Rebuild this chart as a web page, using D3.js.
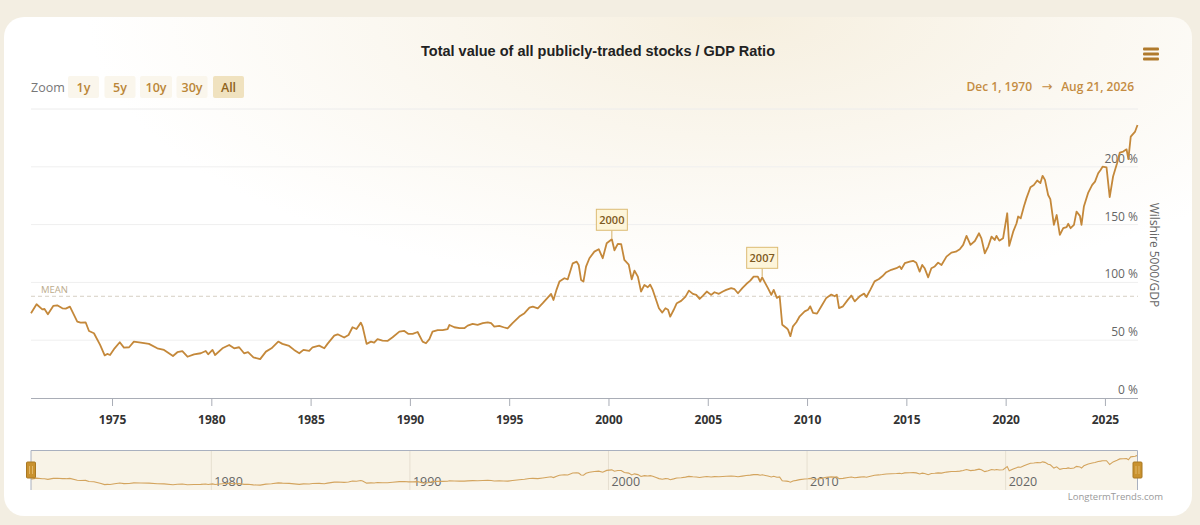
<!DOCTYPE html>
<html>
<head>
<meta charset="utf-8">
<script src="https://cdn.jsdelivr.net/npm/d3@7"></script>
<style>
  html, body { margin: 0; padding: 0; background: #f3eee2; }
  svg { display: block; }
</style>
</head>
<body>
<svg id="chart" width="1200" height="525"></svg>
<script>
// ---- DATA (decimal year, Wilshire 5000 / GDP in %) ----
const dates = [
  1970.92,1971.2,1971.49,1971.6,1971.77,1972.04,1972.24,1972.5,1972.67,1972.88,
  1973.25,1973.42,1973.67,1973.84,1974.09,1974.4,1974.63,1974.76,1974.9,1975.13,
  1975.39,1975.6,1975.86,1976.1,1976.45,1976.86,1977.28,1977.62,1978.07,1978.29,
  1978.54,1978.8,1979.13,1979.47,1979.72,1979.84,1980.06,1980.19,1980.56,1980.9,
  1981.15,1981.4,1981.65,1981.85,1982.12,1982.27,1982.46,1982.75,1983.03,1983.37,
  1983.58,1983.92,1984.17,1984.43,1984.64,1984.93,1985.1,1985.43,1985.69,1985.85,
  1986.19,1986.36,1986.69,1986.91,1987.11,1987.31,1987.53,1987.62,1987.82,1988.04,
  1988.2,1988.37,1988.62,1988.87,1989.13,1989.47,1989.72,1989.93,1990.14,1990.39,
  1990.64,1990.81,1990.98,1991.14,1991.4,1991.65,1991.9,1991.99,1992.24,1992.5,
  1992.74,1992.91,1993.16,1993.41,1993.67,1993.92,1994.09,1994.25,1994.5,1994.72,
  1994.92,1995.17,1995.51,1995.77,1996.02,1996.19,1996.44,1996.69,1996.94,1997.11,
  1997.23,1997.39,1997.53,1997.78,1997.95,1998.2,1998.4,1998.5,1998.62,1998.74,
  1998.87,1999.04,1999.29,1999.51,1999.71,1999.91,2000.17,2000.3,2000.47,2000.64,
  2000.8,2001.02,2001.17,2001.31,2001.48,2001.64,2001.81,2001.98,2002.1,2002.23,
  2002.4,2002.54,2002.71,2002.87,2003.0,2003.11,2003.28,2003.44,2003.66,2003.88,
  2004.05,2004.25,2004.42,2004.59,2004.75,2004.95,2005.17,2005.34,2005.56,2005.76,
  2005.93,2006.18,2006.35,2006.52,2006.74,2006.94,2007.14,2007.31,2007.52,2007.64,
  2007.74,2007.9,2008.03,2008.2,2008.32,2008.48,2008.62,2008.75,2008.96,2009.04,
  2009.16,2009.29,2009.46,2009.63,2009.88,2010.05,2010.16,2010.3,2010.5,2010.72,
  2010.97,2011.22,2011.39,2011.5,2011.61,2011.81,2012.06,2012.23,2012.4,2012.65,
  2012.87,2012.99,2013.19,2013.4,2013.62,2013.79,2013.99,2014.24,2014.5,2014.67,
  2014.75,2014.92,2015.17,2015.34,2015.5,2015.67,2015.8,2015.92,2016.1,2016.26,
  2016.43,2016.6,2016.77,2017.02,2017.27,2017.49,2017.69,2017.86,2018.03,2018.23,
  2018.45,2018.66,2018.78,2018.95,2019.12,2019.29,2019.45,2019.54,2019.68,2019.87,
  2020.08,2020.18,2020.38,2020.55,2020.63,2020.76,2020.92,2021.05,2021.25,2021.42,
  2021.59,2021.75,2021.86,2021.98,2022.14,2022.25,2022.43,2022.57,2022.73,2022.9,
  2023.07,2023.15,2023.27,2023.44,2023.57,2023.74,2023.82,2023.94,2024.16,2024.36,
  2024.5,2024.66,2024.78,2024.88,2025.08,2025.24,2025.41,2025.61,2025.75,2025.92,
  2026.09,2026.18,2026.3,2026.52,2026.64
];
const ratio = [
  73.3,81.1,76.7,77.0,72.5,79.6,80.2,77.6,77.3,79.0,
  66.1,65.2,65.5,58.0,56.0,45.9,36.9,38.1,37.2,43.0,
  48.2,43.6,43.9,48.8,47.9,46.8,43.0,41.6,36.3,39.6,
  40.6,35.7,37.8,38.7,40.7,37.8,41.6,37.2,43.0,45.9,
  43.0,43.9,38.7,39.6,35.2,34.4,33.6,40.1,43.0,48.8,
  46.8,45.0,41.6,38.7,41.6,40.7,43.9,45.3,43.0,46.8,
  54.0,55.1,52.3,54.5,61.2,59.7,65.2,61.7,46.8,48.8,
  47.9,50.9,49.7,49.4,52.6,57.4,58.0,55.4,55.4,57.1,
  48.8,47.4,50.9,57.4,58.8,58.8,59.5,63.2,61.2,60.4,
  60.4,62.6,64.1,63.2,64.7,65.5,64.7,61.7,62.3,61.2,
  60.3,64.7,70.4,73.4,78.1,79.0,77.6,82.0,86.9,90.1,
  84.8,94.0,100.7,103.6,102.7,116.5,117.9,115.1,102.1,100.7,
  113.7,120.9,126.6,128.7,120.9,133.9,137.3,127.8,133.3,133.1,
  119.4,115.4,102.7,110.2,105.0,92.1,97.8,95.8,98.1,93.5,
  84.8,77.6,73.9,77.6,76.4,70.4,76.1,82.0,84.0,87.7,
  92.9,90.1,89.2,85.7,88.3,92.1,89.2,91.5,90.1,92.1,
  93.5,95.0,94.1,90.6,95.0,98.6,101.5,105.0,105.0,100.7,
  104.4,99.2,95.0,89.2,93.5,86.6,88.0,63.4,60.6,59.1,
  53.5,62.0,65.5,70.7,74.9,76.4,79.3,73.6,73.0,79.3,
  86.6,89.5,88.0,89.4,77.8,79.3,85.1,88.6,83.6,88.0,
  90.3,87.4,93.8,100.9,102.9,105.3,108.8,110.9,112.3,113.9,
  111.5,116.6,117.9,118.7,117.0,109.3,115.1,112.3,104.4,112.3,
  113.8,117.1,115.1,122.3,125.8,126.6,128.7,132.5,140.2,132.5,
  135.8,142.5,138.1,125.2,131.0,139.6,136.7,140.2,136.1,138.1,
  159.8,131.6,143.9,151.2,157.0,155.4,165.6,172.9,182.3,184.3,
  188.1,185.9,192.2,188.7,175.6,172.0,149.8,158.3,141.1,146.9,
  147.8,150.7,146.9,149.8,161.2,157.5,149.8,165.6,177.7,184.3,
  187.2,194.4,197.3,200.1,199.5,173.7,191.6,203.1,212.3,213.2,
  215.1,206.6,226.1,230.5,236.2
];
const meanValue = 88;
const xTicks = [1975,1980,1985,1990,1995,2000,2005,2010,2015,2020,2025];
const yTicks = [0,50,100,150,200];
const navTicks = [1980,1990,2000,2010,2020];
const zoomButtons = ["1y","5y","10y","30y","All"];
const annotations = [{year: 2000.17, value: 137.3, label: "2000"}, {year: 2007.74, value: 104.4, label: "2007"}];

const series = dates.map((d, i) => ({x: d, y: ratio[i]}));

const svg = d3.select("#chart");
const FONT = "'Open Sans', 'Noto Sans', sans-serif";
const LINE = "#c4883a";

// ---- background card ----
const defs = svg.append("defs");
const rg = defs.append("radialGradient").attr("id", "glow")
  .attr("cx", "0.62").attr("cy", "0.0").attr("r", "0.55");
rg.append("stop").attr("offset", "0%").attr("stop-color", "#f6efdf");
rg.append("stop").attr("offset", "100%").attr("stop-color", "#ffffff");

svg.append("rect").attr("x", 0).attr("y", 0).attr("width", 1200).attr("height", 525).attr("fill", "#f3eee2");
svg.append("rect").attr("x", 4).attr("y", 17).attr("width", 1188).attr("height", 499)
  .attr("rx", 20).attr("fill", "url(#glow)");

// ---- title ----
svg.append("text").attr("x", 598).attr("y", 56).attr("text-anchor", "middle")
  .attr("font-family", "'Liberation Sans', Arial, sans-serif").attr("font-weight", "bold")
  .attr("font-size", 14.5).attr("fill", "#222")
  .text("Total value of all publicly-traded stocks / GDP Ratio");

// hamburger
[49, 54, 59].forEach(y => {
  svg.append("rect").attr("x", 1143).attr("y", y - 1.5).attr("width", 16).attr("height", 3)
    .attr("rx", 1).attr("fill", "#b07a2c");
});

// ---- zoom buttons ----
svg.append("text").attr("x", 31).attr("y", 91.5).attr("font-family", FONT).attr("font-size", 12.5)
  .attr("fill", "#777").text("Zoom");
const btnX = [68, 104.5, 140, 176.5, 213];
const btnW = [31, 31, 32, 31, 31];
zoomButtons.forEach((b, i) => {
  const sel = b === "All";
  svg.append("rect").attr("x", btnX[i]).attr("y", 76).attr("width", btnW[i]).attr("height", 22)
    .attr("rx", 2).attr("fill", sel ? "#f0e2bf" : "#faf6ec");
  svg.append("text").attr("x", btnX[i] + btnW[i] / 2).attr("y", 91.5).attr("text-anchor", "middle")
    .attr("font-family", FONT).attr("font-size", 12.5).attr("font-weight", 600)
    .attr("fill", sel ? "#8f6420" : "#bb8638").text(b);
});

// date range
const drStyle = s => s.attr("font-family", FONT).attr("font-weight", 600).attr("fill", "#c48c42");
drStyle(svg.append("text").attr("x", 1032).attr("y", 91).attr("text-anchor", "end").attr("font-size", 12))
  .text("Dec 1, 1970");
drStyle(svg.append("text").attr("x", 1047).attr("y", 91).attr("text-anchor", "middle").attr("font-size", 13))
  .attr("font-family", "'DejaVu Sans', sans-serif").attr("font-weight", "normal").text("\u2192");
drStyle(svg.append("text").attr("x", 1134).attr("y", 91).attr("text-anchor", "end").attr("font-size", 12))
  .text("Aug 21, 2026");

// ---- scales ----
const x = d3.scaleLinear().domain([1970.92, 2026.64]).range([31, 1137.5]);
const y = d3.scaleLinear().domain([0, 250]).range([398, 109]);

// gridlines
const grid = svg.append("g");
[0, 50, 100, 150, 200, 250].forEach(v => {
  if (v === 0) return;
  grid.append("line").attr("x1", 31).attr("x2", 1138).attr("y1", y(v)).attr("y2", y(v))
    .attr("stroke", v === 250 ? "#ececec" : "#efefef").attr("stroke-width", 1);
});

// y labels (right)
yTicks.forEach(v => {
  svg.append("text").attr("x", 1138).attr("y", y(v) - 4).attr("text-anchor", "end")
    .attr("font-family", FONT).attr("font-size", 12).attr("fill", "#666")
    .text(v + " %");
});

// y axis title
svg.append("text").attr("transform", "translate(1150,255) rotate(90)")
  .attr("text-anchor", "middle").attr("font-family", FONT).attr("font-size", 12)
  .attr("fill", "#666").text("Wilshire 5000/GDP");

// mean line
svg.append("line").attr("x1", 31).attr("x2", 1138).attr("y1", y(meanValue)).attr("y2", y(meanValue))
  .attr("stroke", "#d6cfc3").attr("stroke-width", 1).attr("stroke-dasharray", "4,3");
svg.append("text").attr("x", 41).attr("y", y(meanValue) - 3.5).attr("font-family", FONT)
  .attr("font-size", 9.5).attr("fill", "#bcab8c").text("MEAN");

// x axis
const xAxis = d3.axisBottom(x).tickValues(xTicks).tickFormat(d3.format("d")).tickSize(8).tickPadding(9);
const gx = svg.append("g").attr("transform", "translate(0,398)").call(xAxis);
gx.select(".domain").attr("stroke", "#a9adb6").attr("d", "M31,0.5H1138");
gx.selectAll(".tick line").attr("stroke", "#a9adb6");
gx.selectAll(".tick text").attr("font-family", FONT).attr("font-size", 12).attr("font-weight", "bold")
  .attr("fill", "#333");

// main line
const line = d3.line().x(d => x(d.x)).y(d => y(d.y)).curve(d3.curveLinear);
svg.append("path").datum(series).attr("d", line).attr("fill", "none")
  .attr("stroke", LINE).attr("stroke-width", 1.8).attr("stroke-linejoin", "round");

// annotations
annotations.forEach(a => {
  const px = x(a.year), py = y(a.value);
  const bw = 31, bh = 21;
  const by = py - 3 - 6 - bh;
  svg.append("line").attr("x1", px).attr("x2", px).attr("y1", by + bh).attr("y2", py - 1)
    .attr("stroke", "#d4b066").attr("stroke-width", 1);
  svg.append("rect").attr("x", px - bw / 2).attr("y", by).attr("width", bw).attr("height", bh)
    .attr("fill", "#fdf5da").attr("stroke", "#dcbc74").attr("stroke-width", 1);
  svg.append("text").attr("x", px).attr("y", by + 15).attr("text-anchor", "middle")
    .attr("font-family", FONT).attr("font-size", 11).attr("font-weight", 600)
    .attr("fill", "#7d5a22").text(a.label);
});

// ---- navigator ----
const navTop = 450, navBot = 490;
const ny = d3.scaleLinear().domain([0, 273]).range([navBot, navTop]);
svg.append("rect").attr("x", 31).attr("y", navTop).attr("width", 1137.5 - 31).attr("height", navBot - navTop)
  .attr("fill", "#f8f3e7");
navTicks.forEach(t => {
  svg.append("line").attr("x1", x(t)).attr("x2", x(t)).attr("y1", navTop).attr("y2", navBot)
    .attr("stroke", "#e6dfd0").attr("stroke-width", 1);
  svg.append("text").attr("x", x(t) + 3).attr("y", 486).attr("font-family", FONT)
    .attr("font-size", 12.5).attr("fill", "#666").text(t);
});
const navLine = d3.line().x(d => x(d.x)).y(d => ny(d.y));
svg.append("path").datum(series).attr("d", navLine).attr("fill", "none")
  .attr("stroke", "#d3a45e").attr("stroke-width", 1.1);
// outline
svg.append("path").attr("d", `M31,${navBot}V${navTop + 0.5}H1137.5V${navBot}`)
  .attr("fill", "none").attr("stroke", "#a9b0bf").attr("stroke-width", 1);
// handles
[31, 1137.5].forEach(hx => {
  svg.append("rect").attr("x", hx - 4.5).attr("y", 462).attr("width", 9).attr("height", 16)
    .attr("rx", 1).attr("fill", "#c9922f").attr("stroke", "#a97823").attr("stroke-width", 1);
  [-1.5, 1.5].forEach(o => {
    svg.append("line").attr("x1", hx + o).attr("x2", hx + o).attr("y1", 466).attr("y2", 474)
      .attr("stroke", "#e9c27a").attr("stroke-width", 0.8);
  });
});

// credit
svg.append("text").attr("x", 1163).attr("y", 500).attr("text-anchor", "end")
  .attr("font-family", FONT).attr("font-size", 9.5).attr("fill", "#9a9a9a").text("LongtermTrends.com");
</script>
</body>
</html>
